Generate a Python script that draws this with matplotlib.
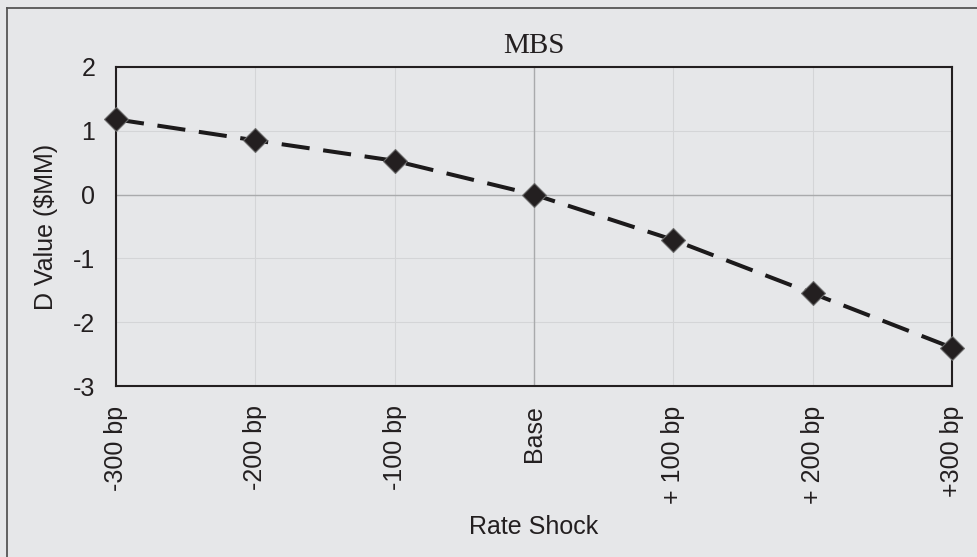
import matplotlib.pyplot as plt

# rate shock scenarios and change in value ($MM)
shocks = ['-300 bp', '-200 bp', '-100 bp', 'Base', '+ 100 bp', '+ 200 bp', '+300 bp']
dvalue = [1.18, 0.85, 0.53, 0.0, -0.71, -1.55, -2.40]
yticks = [-3, -2, -1, 0, 1, 2]

bg = '#e6e7e9'
plt.rcParams['font.family'] = ['Liberation Sans', 'DejaVu Sans']

fig = plt.figure(figsize=(9.77, 5.57), dpi=100, facecolor=bg)
ax = fig.add_axes([116 / 977, 1 - 386 / 557, (952 - 116) / 977, (386 - 67) / 557])
ax.set_facecolor(bg)

# outer frame (only left and top edges show)
fig.add_artist(plt.Line2D([7 / 977, 7 / 977], [0, 1 - 8 / 557], transform=fig.transFigure,
                          color='#555555', lw=1.3))
fig.add_artist(plt.Line2D([7 / 977, 1], [1 - 8 / 557, 1 - 8 / 557], transform=fig.transFigure,
                          color='#555555', lw=1.3))

x = list(range(len(shocks)))
ax.set_xlim(0, len(shocks) - 1)
ax.set_ylim(-3, 2)

# grid
for xi in x:
    ax.axvline(xi, color='#d4d5d7', lw=0.8, zorder=0)
for yi in yticks:
    ax.axhline(yi, color='#d4d5d7', lw=0.8, zorder=0)
ax.axvline(3, color='#a9aaac', lw=1.0, zorder=1)
ax.axhline(0, color='#a9aaac', lw=1.0, zorder=1)

ax.plot(x, dvalue, color='#1c1a1b', lw=2.9, dashes=(7, 3.4), dash_capstyle='butt',
        marker='D', markersize=12.5, markerfacecolor='#231f20', markeredgecolor='#6b6b6b',
        markeredgewidth=0.8, clip_on=False, zorder=5)

ax.set_xticks(x)
ax.set_xticklabels(shocks, rotation=90, fontsize=18, color='#231f20')
ax.set_yticks(yticks)
ax.set_yticklabels([str(v) for v in yticks], fontsize=18, color='#231f20')
ax.tick_params(axis='x', length=0, pad=14)
ax.tick_params(axis='y', length=0, pad=15)

for s in ax.spines.values():
    s.set_color('#231f20')
    s.set_linewidth(1.5)

ax.set_title('MBS', fontsize=21, family='Liberation Serif', color='#231f20', pad=10)
ax.set_xlabel('Rate Shock', fontsize=18, color='#231f20', labelpad=8)
ax.set_ylabel('D Value ($MM)', fontsize=18, color='#231f20', labelpad=11)

fig.savefig('out.png', dpi=100, facecolor=bg)
